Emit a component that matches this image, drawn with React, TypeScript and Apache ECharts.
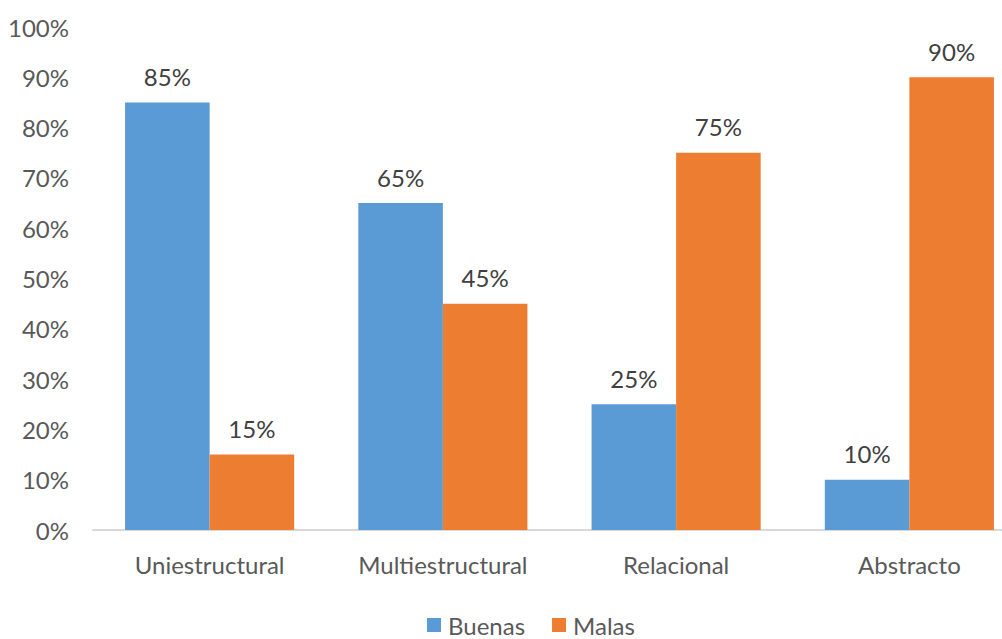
import React, { useEffect, useRef } from "react";
import * as echarts from "echarts";

const categories = ["Uniestructural", "Multiestructural", "Relacional", "Abstracto"];
const buenas = [85, 65, 25, 10];
const malas = [15, 45, 75, 90];
const seriesNames = ["Buenas", "Malas"];

const FONT = "Lato";
const FS = 24;

export default function App() {
  const ref = useRef<HTMLDivElement>(null);
  useEffect(() => {
    if (!ref.current) return;
    const chart = echarts.init(ref.current, undefined, { renderer: "svg" });
    const label = {
      show: true,
      position: "top",
      distance: 14,
      formatter: "{c}%",
      color: "#404040",
      fontSize: FS,
      fontFamily: FONT,
    };
    chart.setOption({
      animation: false,
      backgroundColor: "#ffffff",
      textStyle: { fontFamily: FONT },
      grid: { left: 93, top: 27, right: 4, bottom: 109, containLabel: false },
      legend: {
        data: seriesNames,
        left: 422,
        top: 608,
        itemWidth: 14,
        itemHeight: 14,
        itemGap: 27,
        icon: "rect",
        textStyle: { fontSize: FS, color: "#595959", fontFamily: FONT, padding: [0, 0, 0, 2] },
      },
      xAxis: {
        type: "category",
        data: categories,
        axisLine: { show: true, lineStyle: { color: "#D9D9D9", width: 2 } },
        axisTick: { show: false },
        axisLabel: { fontSize: FS, color: "#595959", margin: 22, fontFamily: FONT },
      },
      yAxis: {
        type: "value",
        min: 0,
        max: 100,
        interval: 10,
        axisLine: { show: false },
        axisTick: { show: false },
        splitLine: { show: false },
        axisLabel: { fontSize: FS, color: "#595959", margin: 24, formatter: "{value}%", fontFamily: FONT },
      },
      series: [
        {
          name: seriesNames[0],
          type: "bar",
          data: buenas,
          barGap: "0%",
          barCategoryGap: "27.5%",
          itemStyle: { color: "#5B9BD5" },
          label,
        },
        {
          name: seriesNames[1],
          type: "bar",
          data: malas,
          barGap: "0%",
          barCategoryGap: "27.5%",
          itemStyle: { color: "#ED7D31" },
          label,
        },
      ],
    });
    return () => chart.dispose();
  }, []);
  return (
    <div
      style={{ position: "fixed", left: 0, top: 0, width: 1002, height: 639, overflow: "hidden", background: "#fff" }}
    >
      <div ref={ref} style={{ width: 1030, height: 639 }} />
    </div>
  );
}
